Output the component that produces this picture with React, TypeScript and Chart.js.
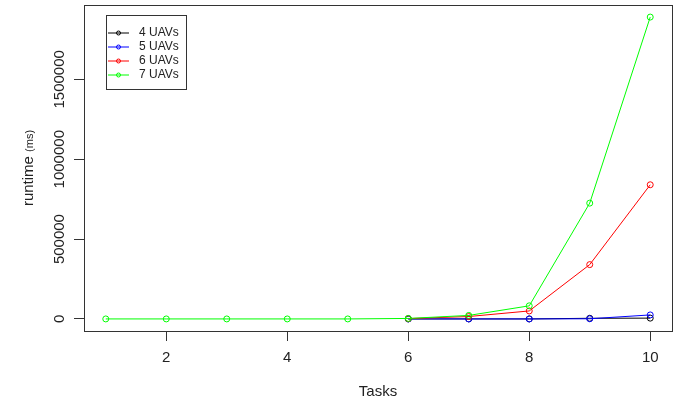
import { useEffect, useRef } from 'react';
import { Chart, registerables } from 'chart.js';

Chart.register(...registerables);

// ---- data ----
const tasks = [1, 2, 3, 4, 5, 6, 7, 8, 9, 10];
const uav4 = [null, null, null, null, null, 0, 0, 0, 4000, 5000];
const uav5 = [null, null, null, null, null, 0, 0, 0, 1000, 25000];
const uav6 = [null, null, null, null, null, 2000, 15000, 50000, 340000, 840000];
const uav7 = [0, 0, 0, 0, 0, 3000, 22000, 82000, 725000, 1890000];

const seriesLabels = ['4 UAVs', '5 UAVs', '6 UAVs', '7 UAVs'];
const seriesColors = ['#000000', '#0000FF', '#FF0000', '#00FF00'];
const xTicks = [2, 4, 6, 8, 10];
const yTicks = [0, 500000, 1000000, 1500000];
const yTickLabels = ['0', '500000', '1000000', '1500000'];
const xTitle = 'Tasks';
const yTitleMain = 'runtime';
const yTitleUnit = '(ms)';

const FONT = '"Liberation Sans", Arial, sans-serif';

function toPoints(values: (number | null)[]) {
  return tasks
    .map((t, i) => ({ x: t, y: values[i] }))
    .filter((p) => p.y !== null) as { x: number; y: number }[];
}

const overlayPlugin = {
  id: 'overlay',
  afterDraw(chart: any) {
    const { ctx, chartArea: a, scales } = chart;
    ctx.save();
    // plot box
    ctx.strokeStyle = '#333';
    ctx.lineWidth = 1;
    ctx.strokeRect(
      Math.round(a.left) + 0.5,
      Math.round(a.top) + 0.5,
      Math.round(a.right - a.left),
      Math.round(a.bottom - a.top)
    );

    // y tick labels (rotated)
    ctx.fillStyle = '#222';
    ctx.font = `15px ${FONT}`;
    ctx.textAlign = 'center';
    ctx.textBaseline = 'alphabetic';
    yTicks.forEach((v, i) => {
      const y = scales.y.getPixelForValue(v);
      ctx.save();
      ctx.translate(63.5, y);
      ctx.rotate(-Math.PI / 2);
      ctx.fillText(yTickLabels[i], 0, 0);
      ctx.restore();
    });

    // y title
    const cy = (a.top + a.bottom) / 2;
    ctx.save();
    ctx.translate(33, cy);
    ctx.rotate(-Math.PI / 2);
    ctx.textAlign = 'left';
    ctx.font = `15px ${FONT}`;
    const w1 = ctx.measureText(yTitleMain + ' ').width;
    ctx.font = `11px ${FONT}`;
    const w2 = ctx.measureText(yTitleUnit).width;
    const start = -(w1 + w2) / 2;
    ctx.font = `15px ${FONT}`;
    ctx.fillText(yTitleMain, start, 0);
    ctx.font = `11px ${FONT}`;
    ctx.fillText(yTitleUnit, start + w1, 0);
    ctx.restore();

    // x title
    ctx.font = `15px ${FONT}`;
    ctx.textAlign = 'center';
    ctx.textBaseline = 'middle';
    ctx.fillText(xTitle, (a.left + a.right) / 2, 392);

    // legend
    const lx = 106.5;
    const ly = 15.5;
    ctx.strokeStyle = '#333';
    ctx.strokeRect(lx, ly, 80, 74);
    ctx.font = `12px ${FONT}`;
    ctx.textAlign = 'left';
    ctx.textBaseline = 'middle';
    seriesLabels.forEach((label, i) => {
      const y = 33 + i * 14;
      ctx.strokeStyle = seriesColors[i];
      ctx.beginPath();
      ctx.moveTo(108, y);
      ctx.lineTo(129, y);
      ctx.stroke();
      ctx.beginPath();
      ctx.arc(118.5, y, 2, 0, Math.PI * 2);
      ctx.stroke();
      ctx.fillStyle = '#222';
      ctx.fillText(label, 139, y);
    });
    ctx.restore();
  },
};

export default function App() {
  const canvasRef = useRef<HTMLCanvasElement | null>(null);

  useEffect(() => {
    document.body.style.margin = '0';
    const canvas = canvasRef.current;
    if (!canvas) return;
    const seriesValues = [uav4, uav5, uav6, uav7];
    const chart = new Chart(canvas, {
      type: 'line',
      data: {
        datasets: seriesValues.map((vals, i) => ({
          label: seriesLabels[i],
          data: toPoints(vals),
          borderColor: seriesColors[i],
          backgroundColor: 'transparent',
          pointBorderColor: seriesColors[i],
          pointBackgroundColor: 'transparent',
          pointRadius: 3,
          pointBorderWidth: 1,
          borderWidth: 1,
          tension: 0,
          order: 3 - i,
        })),
      },
      options: {
        responsive: false,
        animation: false,
        layout: { padding: { top: 5, right: 11, left: 0, bottom: 0 } },
        plugins: {
          legend: { display: false },
          tooltip: { enabled: false },
        },
        scales: {
          x: {
            type: 'linear',
            min: 0.64,
            max: 10.36,
            afterBuildTicks: (scale: any) => {
              scale.ticks = xTicks.map((v) => ({ value: v }));
            },
            afterFit: (scale: any) => {
              scale.height = 71;
            },
            grid: {
              drawOnChartArea: false,
              drawTicks: true,
              tickLength: 10,
              tickColor: '#333',
              color: '#333',
            },
            border: { display: false },
            ticks: {
              color: '#222',
              font: { family: FONT, size: 15 },
              padding: 8,
              maxRotation: 0,
              minRotation: 0,
              autoSkip: false,
              callback: (v: any) => String(v),
            },
          },
          y: {
            type: 'linear',
            min: -75600,
            max: 1965600,
            afterBuildTicks: (scale: any) => {
              scale.ticks = yTicks.map((v) => ({ value: v }));
            },
            afterFit: (scale: any) => {
              scale.width = 84;
            },
            grid: {
              drawOnChartArea: false,
              drawTicks: true,
              tickLength: 10,
              tickColor: '#333',
              color: '#333',
            },
            border: { display: false },
            ticks: { display: false },
          },
        },
      },
      plugins: [overlayPlugin],
    } as any);
    return () => chart.destroy();
  }, []);

  return (
    <div style={{ width: 683, height: 402 }}>
      <canvas ref={canvasRef} width={683} height={402} style={{ display: 'block' }} />
    </div>
  );
}
